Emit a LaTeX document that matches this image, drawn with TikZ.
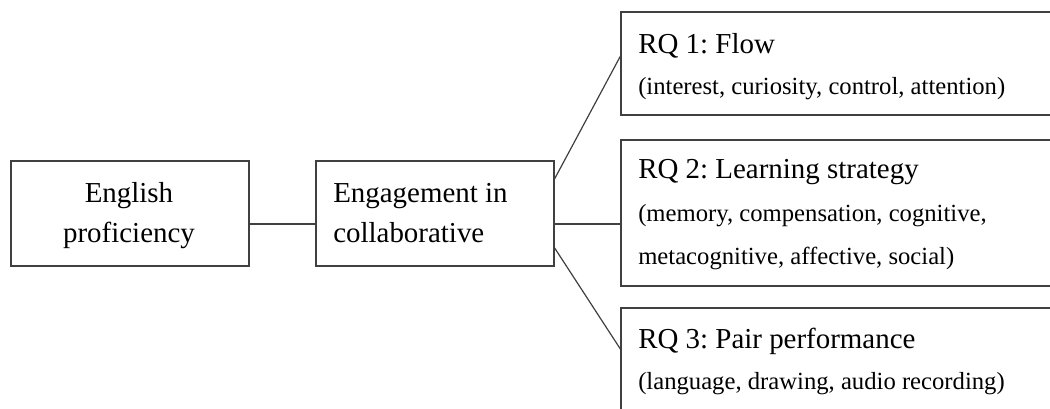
\documentclass[tikz,border=0pt]{standalone}
\usepackage{fontspec}
\setmainfont{Liberation Serif}
\usetikzlibrary{calc}
\frenchspacing
\begin{document}
\begin{tikzpicture}[x=0.75pt,y=-0.75pt,
  box/.style={draw=black!75,line width=1.1pt,rectangle,inner sep=0pt,outer sep=0pt,fill=white},
  link/.style={draw=black!75,line width=0.9pt},
  big/.style={inner sep=0pt,anchor=base west,font=\fontsize{21.7pt}{24pt}\selectfont},
  bigc/.style={inner sep=0pt,anchor=base,font=\fontsize{21.7pt}{24pt}\selectfont},
  small/.style={inner sep=0pt,anchor=base west,font=\fontsize{18.5pt}{21pt}\selectfont}]
\clip (0,0) rectangle (1050,409);
\fill[white] (0,0) rectangle (1050,409);
% boxes
\node[box,minimum width=178.5pt,minimum height=78.75pt] (A) at (130,213.5) {};
\node[box,minimum width=178.5pt,minimum height=78.75pt] (B) at (435,213.5) {};
\node[box,minimum width=351.75pt,minimum height=77.25pt] (R1) at (855.5,63.5) {};
\node[box,minimum width=351.75pt,minimum height=109.5pt] (R2) at (855.5,213) {};
\node[box,minimum width=351.75pt,minimum height=99pt] (R3) at (855.5,374) {};
% connectors
\draw[link] ($(A.south east)+(0,-42)$) -- ($(B.south west)+(0,-42)$);
\draw[link] ($(B.south east)+(0,-42)$) -- ($(R2.south west)+(0,-62)$);
\draw[link] ($(B.north east)+(0,19)$) -- ($(R1.north west)+(0,43)$);
\draw[link] ($(B.south east)+(0,-19)$) -- ($(R3.north west)+(0,42)$);
% texts
\node[bigc] (a1) at (129,203) {English};
\node[bigc] (a2) at (129,243) {proficiency};
\node[big] (b1) at (333,203) {Engagement in};
\node[big] (b2) at (333,243) {collaborative};
\node[big] (r1a) at (638,54) {RQ 1: Flow};
\node[small] (r1b) at (638,95) {(interest, curiosity, control, attention)};
\node[big] (r2a) at (638,179) {RQ 2: Learning strategy};
\node[small] (r2b) at (638,222) {(memory, compensation, cognitive,};
\node[small] (r2c) at (638,265) {metacognitive, affective, social)};
\node[big] (r3a) at (638,349) {RQ 3: Pair performance};
\node[small] (r3b) at (638,390) {(language, drawing, audio recording)};
\end{tikzpicture}
\end{document}
